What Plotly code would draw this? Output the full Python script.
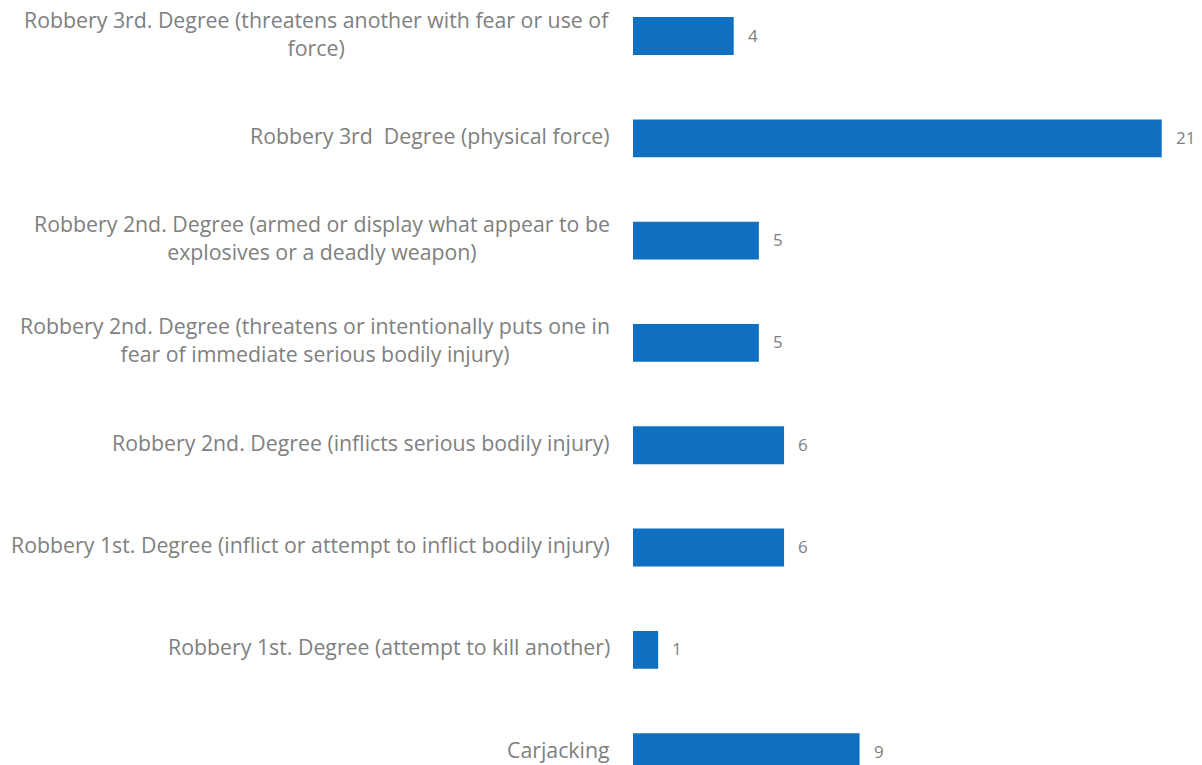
import plotly.graph_objects as go

# Offense categories, listed top to bottom
categories = [
    "Robbery 3rd. Degree (threatens another with fear or use of<br>force)",
    "Robbery 3rd  Degree (physical force)",
    "Robbery 2nd. Degree (armed or display what appear to be<br>explosives or a deadly weapon)",
    "Robbery 2nd. Degree (threatens or intentionally puts one in<br>fear of immediate serious bodily injury)",
    "Robbery 2nd. Degree (inflicts serious bodily injury)",
    "Robbery 1st. Degree (inflict or attempt to inflict bodily injury)",
    "Robbery 1st. Degree (attempt to kill another)",
    "Carjacking",
]
counts = [4, 21, 5, 5, 6, 6, 1, 9]

BAR_COLOR = "#0F6FC0"
TEXT_COLOR = "#808080"
FONT = "'Open Sans', Lato, Arial, sans-serif"

fig = go.Figure(
    go.Bar(
        x=counts,
        y=categories,
        orientation="h",
        marker=dict(color=BAR_COLOR, line=dict(width=0)),
        width=0.37,
        hoverinfo="x+y",
    )
)

# Category labels, centered per line and right-aligned next to the axis
for cat in categories:
    fig.add_annotation(
        x=0, y=cat, xref="x", yref="y",
        text=cat, showarrow=False,
        xanchor="right", yanchor="middle", align="center",
        xshift=-22, yshift=3, borderpad=0,
        font=dict(family=FONT, size=21.3, color=TEXT_COLOR),
    )

# Value labels just past the end of each bar
for cat, v in zip(categories, counts):
    fig.add_annotation(
        x=v, y=cat, xref="x", yref="y",
        text=str(v), showarrow=False,
        xanchor="left", yanchor="middle",
        xshift=12, yshift=1,
        font=dict(family=FONT, size=17, color=TEXT_COLOR),
    )

fig.update_layout(
    width=1202, height=765,
    margin=dict(l=633, r=0, t=0, b=0),
    paper_bgcolor="white", plot_bgcolor="white",
    showlegend=False,
    xaxis=dict(range=[0, 22.6], visible=False, fixedrange=True),
    yaxis=dict(
        range=[7.126, -0.352],
        showticklabels=False, showgrid=False, zeroline=False,
        showline=False, ticks="",
    ),
)

fig.write_html("out.html")
